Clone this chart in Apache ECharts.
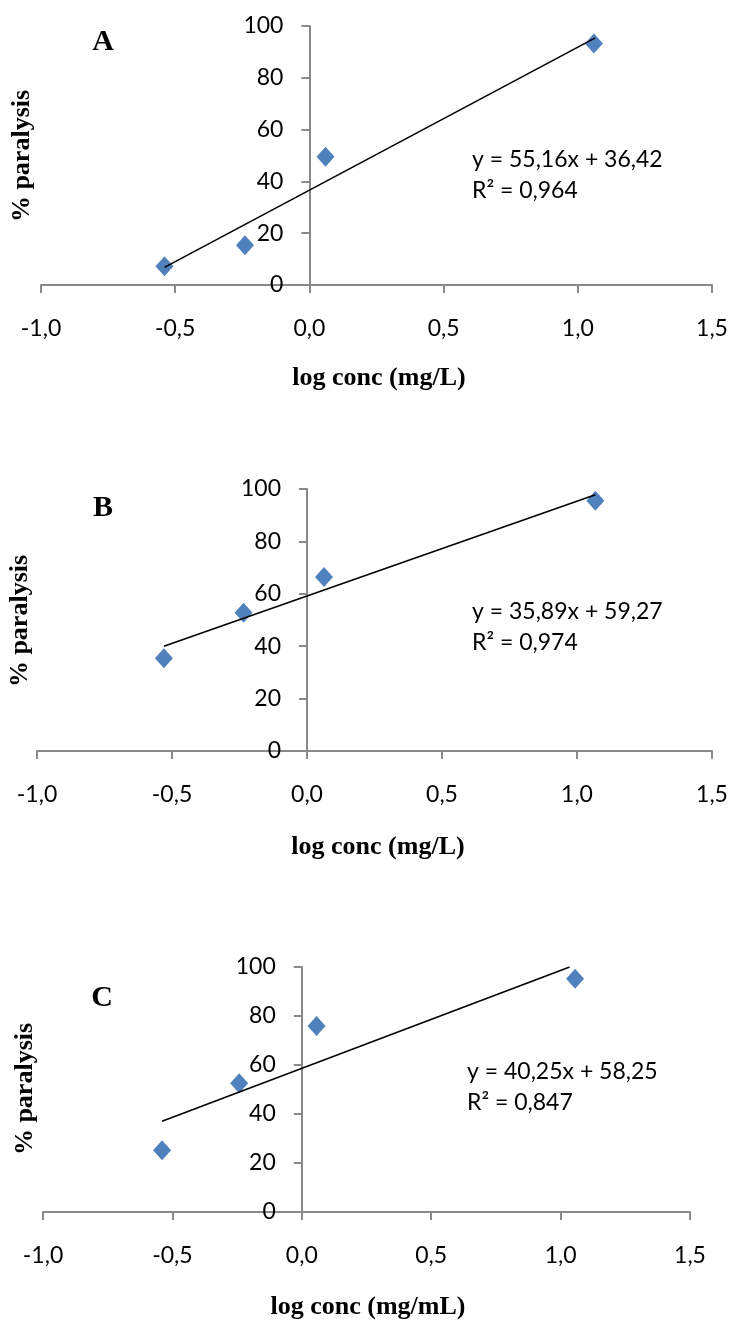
<!DOCTYPE html>
<html>
<head>
<meta charset="utf-8">
<script src="https://cdn.jsdelivr.net/npm/echarts@6/dist/echarts.min.js"></script>
<style>
html,body{margin:0;padding:0;background:#fff;}
#chart{width:732px;height:1320px;}
</style>
</head>
<body>
<div id="chart"></div>
<script>
// ---- data ----
var panelLetters = ['A', 'B', 'C'];
var xTickLabels = ['-1,0', '-0,5', '0,0', '0,5', '1,0', '1,5'];
var yTickLabels = ['0', '20', '40', '60', '80', '100'];
var xTitles = ['log conc (mg/L)', 'log conc (mg/L)', 'log conc (mg/mL)'];
var yTitle = '% paralysis';

var logConcA = [-0.54, -0.24, 0.06, 1.06];
var paralysisA = [7.2, 15.3, 49.5, 93.2];
var logConcB = [-0.53, -0.235, 0.063, 1.068];
var paralysisB = [35.4, 52.8, 66.4, 95.5];
var logConcC = [-0.54, -0.242, 0.057, 1.056];
var paralysisC = [25.2, 52.6, 75.9, 95.2];

// trendline endpoints
var trendXA = [-0.54, 1.065];
var trendYA = [6.8, 95.4];
var trendXB = [-0.53, 1.068];
var trendYB = [40.0, 97.8];
var trendXC = [-0.54, 1.035];
var trendYC = [37.0, 100];

var equations = [
  ['y = 55,16x + 36,42', 'R\u00B2 = 0,964'],
  ['y = 35,89x + 59,27', 'R\u00B2 = 0,974'],
  ['y = 40,25x + 58,25', 'R\u00B2 = 0,847']
];

function pairs(xs, ys) { return xs.map(function (x, i) { return [x, ys[i]]; }); }

var scatterData = [pairs(logConcA, paralysisA), pairs(logConcB, paralysisB), pairs(logConcC, paralysisC)];
var trendData = [pairs(trendXA, trendYA), pairs(trendXB, trendYB), pairs(trendXC, trendYC)];

// ---- layout ----
var W = 732;
var grids = [
  { left: 41, right: 20, top: 26, height: 259 },
  { left: 37, right: 20, top: 489, height: 262 },
  { left: 43, right: 42, top: 967, height: 245 }
];
grids.forEach(function (g) { g.outerBoundsMode = 'none'; g.containLabel = false; });
var X_MIN = -1, X_MAX = 1.5;
var axisColor = '#898989';
var tickFont = 'Lato, "Open Sans", sans-serif';
var serif = '"Liberation Serif", "DejaVu Serif", serif';

var xAxes = [], yAxes = [], series = [];
for (var i = 0; i < 3; i++) {
  var gw = W - grids[i].left - grids[i].right;
  // place the vertical axis at x = 0 of the horizontal axis (labels included)
  var yOffset = -((0 - X_MIN) / (X_MAX - X_MIN)) * gw;
  xAxes.push({
    type: 'value', gridIndex: i, min: X_MIN, max: X_MAX, interval: 0.5,
    axisLine: { show: true, onZero: false, lineStyle: { color: axisColor, width: 2 } },
    axisTick: { show: true, inside: false, length: 8, lineStyle: { color: axisColor, width: 2 } },
    splitLine: { show: false },
    axisLabel: {
      margin: 32, color: '#000', fontFamily: tickFont, fontSize: 23,
      formatter: function (v) { return xTickLabels[Math.round((v - X_MIN) / 0.5)]; }
    }
  });
  yAxes.push({
    type: 'value', gridIndex: i, min: 0, max: 100, interval: 20,
    position: 'left', offset: yOffset,
    axisLine: { show: true, onZero: false, lineStyle: { color: axisColor, width: 2 } },
    axisTick: { show: true, inside: false, length: 8, lineStyle: { color: axisColor, width: 2 } },
    splitLine: { show: false },
    axisLabel: {
      margin: 26, color: '#000', fontFamily: tickFont, fontSize: 23,
      formatter: function (v) { return yTickLabels[Math.round(v / 20)]; }
    }
  });
  series.push({
    type: 'scatter', xAxisIndex: i, yAxisIndex: i,
    data: scatterData[i], symbol: 'diamond', symbolSize: [18, 20],
    itemStyle: { color: '#4F81BD', opacity: 1 }, z: 2
  });
  series.push({
    type: 'line', xAxisIndex: i, yAxisIndex: i,
    data: trendData[i], showSymbol: false, symbol: 'none',
    lineStyle: { color: '#000', width: 1.6 }, z: 3
  });
}

// text positions
var letterPos = [[103, 42], [103, 508], [102, 998]];
var xTitlePos = [[379, 378], [378, 847], [368, 1307]];
var yTitlePos = [[22, 156], [20, 621], [25, 1089]];
var eqPos = [[472, 160, 191], [472, 612, 643], [467, 1072, 1103]];

var graphics = [];
for (var j = 0; j < 3; j++) {
  graphics.push({ type: 'text', x: letterPos[j][0], y: letterPos[j][1],
    style: { text: panelLetters[j], font: 'bold 30px ' + serif, fill: '#000', textAlign: 'center', textVerticalAlign: 'middle' } });
  graphics.push({ type: 'text', x: xTitlePos[j][0], y: xTitlePos[j][1],
    style: { text: xTitles[j], font: 'bold 26px ' + serif, fill: '#000', textAlign: 'center', textVerticalAlign: 'middle' } });
  graphics.push({ type: 'text', x: yTitlePos[j][0], y: yTitlePos[j][1], rotation: Math.PI / 2,
    style: { text: yTitle, font: 'bold 26px ' + serif, fill: '#000', textAlign: 'center', textVerticalAlign: 'middle' } });
  graphics.push({ type: 'text', x: eqPos[j][0], y: eqPos[j][1],
    style: { text: equations[j][0], font: '23px ' + tickFont, fill: '#000', textAlign: 'left', textVerticalAlign: 'middle' } });
  graphics.push({ type: 'text', x: eqPos[j][0], y: eqPos[j][2],
    style: { text: equations[j][1], font: '23px ' + tickFont, fill: '#000', textAlign: 'left', textVerticalAlign: 'middle' } });
}

var chart = echarts.init(document.getElementById('chart'), null, { renderer: 'canvas' });
chart.setOption({
  animation: false,
  backgroundColor: '#fff',
  grid: grids,
  xAxis: xAxes,
  yAxis: yAxes,
  series: series,
  graphic: graphics
});
</script>
</body>
</html>
